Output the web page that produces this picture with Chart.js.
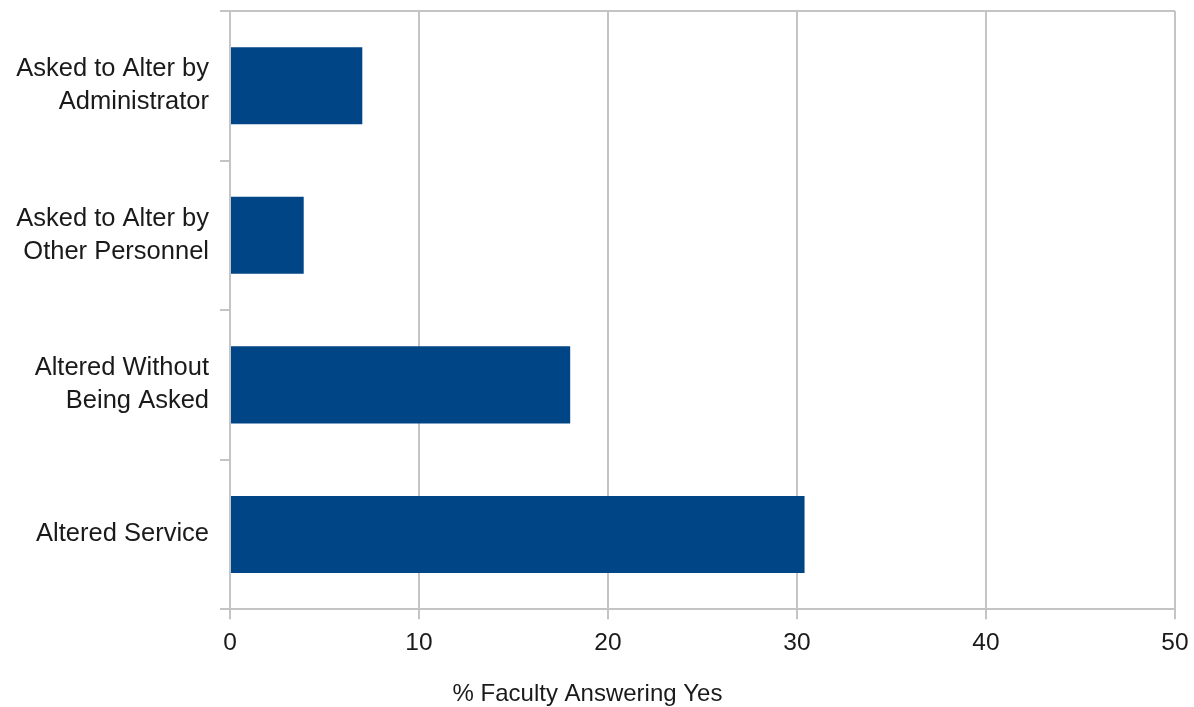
<!DOCTYPE html>
<html>
<head>
<meta charset="utf-8">
<script src="https://cdn.jsdelivr.net/npm/chart.js@4/dist/chart.umd.min.js"></script>
<style>
  html, body { margin: 0; padding: 0; background: #ffffff; }
  #wrap { width: 1194px; height: 707px; position: relative; }
</style>
</head>
<body>
<div id="wrap"><canvas id="c"></canvas></div>
<script>
const categories = [
  ['Asked to Alter by', 'Administrator'],
  ['Asked to Alter by', 'Other Personnel'],
  ['Altered Without', 'Being Asked'],
  'Altered Service'
];
const percentYes = [7.0, 3.9, 18.0, 30.4];
const xTicks = [0, 10, 20, 30, 40, 50];
const axisTitle = '% Faculty Answering Yes';

const GRID = '#c4c4c4';
const TEXT = '#1a1a1a';
const FONT = "'Liberation Sans', Arial, sans-serif";

new Chart(document.getElementById('c'), {
  type: 'bar',
  data: {
    labels: categories,
    datasets: [{
      data: percentYes,
      backgroundColor: '#004586',
      borderWidth: 0,
      barPercentage: 0.515,
      categoryPercentage: 1.0
    }]
  },
  options: {
    indexAxis: 'y',
    responsive: true,
    maintainAspectRatio: false,
    animation: false,
    layout: { padding: { top: 11, right: 19, left: 0, bottom: 0 } },
    plugins: {
      legend: { display: false },
      tooltip: { enabled: false },
      title: {
        display: true,
        position: 'bottom',
        text: axisTitle,
        color: TEXT,
        font: { family: FONT, size: 24, weight: 'normal', lineHeight: 1.35 },
        padding: { top: 12, bottom: -4 }
      }
    },
    scales: {
      x: {
        min: xTicks[0],
        max: xTicks[xTicks.length - 1],
        afterBuildTicks: s => { s.ticks = xTicks.map(v => ({ value: v })); },
        afterFit: s => { s.paddingLeft = 0; s.paddingRight = 0; },
        grid: {
          color: GRID,
          lineWidth: 2,
          drawTicks: true,
          tickLength: 10,
          tickColor: GRID
        },
        border: { display: true, color: GRID, width: 2 },
        ticks: {
          color: TEXT,
          padding: 9,
          font: { family: FONT, size: 24.5, lineHeight: 1.2 }
        }
      },
      y: {
        afterFit: s => { s.width = 230; s.paddingTop = 0; s.paddingBottom = 0; },
        grid: {
          offset: true,
          lineWidth: 2,
          drawTicks: true,
          tickLength: 10,
          tickColor: GRID,
          color: ctx => (ctx.index === 0 || ctx.index === undefined) ? GRID : 'rgba(0,0,0,0)'
        },
        border: { display: true, color: GRID, width: 2 },
        ticks: {
          color: TEXT,
          padding: 11,
          font: { family: FONT, size: 25.5, lineHeight: 1.3 }
        }
      }
    }
  }
});
</script>
</body>
</html>
